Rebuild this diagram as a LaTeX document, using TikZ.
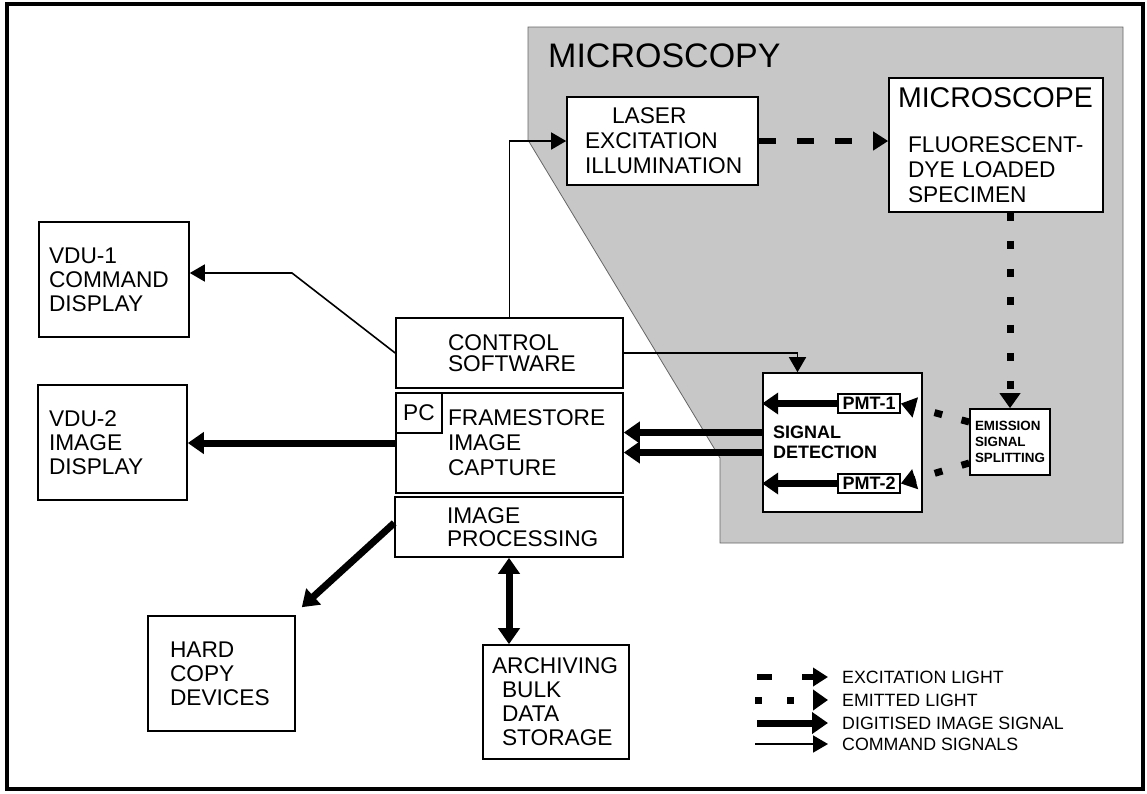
\documentclass[tikz,border=0pt]{standalone}
\usepackage{fontspec}
\setmainfont{Liberation Sans}
\usetikzlibrary{arrows.meta}

\begin{document}
\begin{tikzpicture}[
  x=1pt, y=-1pt,
  font=\fontsize{22.7}{24}\selectfont,
  textinset/.style={execute at begin node={\leftskip=#1\relax}},
  box/.style={draw, line width=1.6pt, fill=white, inner sep=0pt, align=left},
  pmtfont/.style={font=\bfseries\fontsize{18}{20}\selectfont},
  splitfont/.style={font=\bfseries\fontsize{13.4}{16}\selectfont},
  keytext/.style={font=\fontsize{17.8}{20}\selectfont, anchor=west, inner sep=0pt},
  cmd/.style={-{Triangle[length=15pt,width=17pt]}, line width=1.6pt},
  dig/.style={-{Triangle[length=16pt,width=21pt]}, line width=7pt},
  dig2/.style={{Triangle[length=16pt,width=21pt]}-{Triangle[length=16pt,width=21pt]}, line width=7pt},
  exc/.style={-{Triangle[length=15pt,width=18pt]}, line width=6pt, dash pattern=on 17pt off 21pt},
  emi/.style={-{Triangle[length=15pt,width=20pt]}, line width=7pt, dash pattern=on 8pt off 20pt}
]
\useasboundingbox (0,0) rectangle (1147,793);

% microscopy area
\filldraw[fill=black!22, draw=black!60, line width=0.8pt]
  (528,27) -- (1123,27) -- (1123,543) -- (720,543) -- (720,458) -- (528,140) -- cycle;
\node[anchor=base west, inner sep=0pt, font=\fontsize{34}{36}\selectfont] (title) at (548,67) {MICROSCOPY};

% left column: displays and output
\node[box, minimum height=115pt, text width=150pt, textinset=10pt] (vdu1) at (114,279.5)
  {VDU-1\\COMMAND\\DISPLAY};
\node[box, minimum height=115pt, text width=149pt, textinset=11pt] (vdu2) at (112.5,442.5)
  {VDU-2\\IMAGE\\DISPLAY};
\node[box, minimum height=115pt, text width=147pt, textinset=22pt] (hardcopy) at (221.5,673.5)
  {HARD\\COPY\\DEVICES};

% the PC stack
\node[box, minimum height=70pt, text width=227pt, textinset=52pt,
  font=\fontsize{22.7}{21}\selectfont] (ctrl) at (509.5,353)
  {CONTROL\\SOFTWARE};
\node[box, minimum height=100pt, text width=227pt, textinset=52pt,
  font=\fontsize{22.7}{25}\selectfont] (frame) at (509.5,443)
  {FRAMESTORE\\IMAGE\\CAPTURE};
\node[box, minimum width=46pt, minimum height=40pt, align=center] (pc) at (419,413) {PC};
\node[box, minimum height=60pt, text width=228pt, textinset=52pt,
  font=\fontsize{22.7}{23}\selectfont] (improc) at (509,527)
  {IMAGE\\PROCESSING};
\node[box, minimum height=114pt, text width=146pt, textinset=9pt] (archive) at (556,702)
  {ARCHIVING\\\hspace*{10pt}BULK\\\hspace*{10pt}DATA\\\hspace*{10pt}STORAGE};

% microscopy blocks
\node[box, minimum height=88pt, text width=191pt, textinset=18pt,
  font=\fontsize{22.7}{25}\selectfont] (laser) at (662.5,141)
  {\hspace*{27pt}LASER\\EXCITATION\\ILLUMINATION};
\node[box, minimum height=134pt, text width=214pt, textinset=9pt,
  font=\fontsize{22.7}{25}\selectfont] (microscope) at (996,145)
  {{\fontsize{28.5}{30}\selectfont MICROSCOPE}\\[20pt]\hspace*{10pt}FLUORESCENT-\\\hspace*{10pt}DYE LOADED\\\hspace*{10pt}SPECIMEN};
\node[box, minimum height=139pt, text width=159pt, textinset=10pt, pmtfont] (sigdet) at (842.5,442.5)
  {SIGNAL\\DETECTION};
\node[box, minimum width=62pt, minimum height=19pt, align=center, pmtfont] (pmt1) at (869,403.5) {PMT-1};
\node[box, minimum width=62pt, minimum height=19pt, align=center, pmtfont] (pmt2) at (869,483.5) {PMT-2};
\node[box, minimum height=66pt, text width=80pt, textinset=5pt, splitfont] (emission) at (1010,442)
  {EMISSION\\SIGNAL\\SPLITTING};

% command signals
\coordinate (knee) at (292,273);
\draw[cmd] (ctrl.west) -- (knee) -- (knee -| vdu1.east);
\draw[cmd] (ctrl.north) |- (laser.west);
\draw[cmd] (ctrl.east) -| ([xshift=-45pt]sigdet.north);

% digitised image signal
\draw[dig] (frame.west) -- (frame.west -| vdu2.east);
\draw[dig] ([yshift=10pt]sigdet.west) -- ([yshift=10pt]sigdet.west -| frame.east);
\draw[dig] ([yshift=-10pt]sigdet.west) -- ([yshift=-10pt]sigdet.west -| frame.east);
\draw[dig] (pmt1.west) -- (pmt1.west -| sigdet.west);
\draw[dig] (pmt2.west) -- (pmt2.west -| sigdet.west);
\draw[dig] ([yshift=4pt]improc.west) -- ([xshift=6pt,yshift=8pt]hardcopy.north east);
\draw[dig2] (improc.south) -- (improc.south |- archive.north);

% excitation and emitted light
\draw[exc] (laser.east) -- (laser.east -| microscope.west);
\draw[emi] (microscope.south -| emission.north) -- (emission.north);
\draw[emi] ([yshift=20pt]emission.west) -- (pmt1.east);
\draw[emi] ([yshift=-21pt]emission.west) -- (pmt2.east);

% key
\node[keytext] (kexc) at (842,677) {EXCITATION LIGHT};
\node[keytext] (kemi) at (842,700) {EMITTED LIGHT};
\node[keytext] (kdig) at (842,723) {DIGITISED IMAGE SIGNAL};
\node[keytext] (kcmd) at (842,744) {COMMAND SIGNALS};
\draw[exc, dash pattern=on 15pt off 30pt] ([xshift=-85pt]kexc.west) -- ([xshift=-14pt]kexc.west);
\draw[emi, dash pattern=on 7pt off 25pt] ([xshift=-87pt]kemi.west) -- ([xshift=-14pt]kemi.west);
\draw[dig] ([xshift=-85pt]kdig.west) -- ([xshift=-14pt]kdig.west);
\draw[cmd] ([xshift=-87pt]kcmd.west) -- ([xshift=-14pt]kcmd.west);

% outer frame
\draw[line width=4pt] (7,4) rectangle (1143,789);

\end{tikzpicture}
\end{document}
